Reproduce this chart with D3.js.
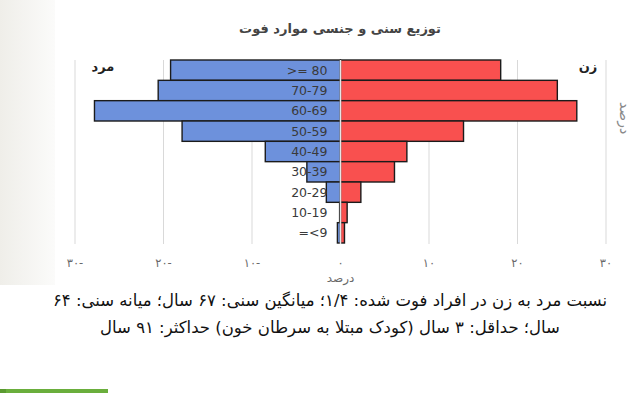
<!DOCTYPE html>
<html>
<head>
<meta charset="utf-8">
<script src="https://d3js.org/d3.v7.min.js"></script>
<style>
    body { margin: 0; background: #fff; }
    svg text { font-family: "DejaVu Sans", sans-serif; }
</style>
</head>
<body>
<div id="chart"></div>
<script>

    // age groups, top to bottom
    var ages = [">= 80", "70-79", "60-69", "50-59", "40-49", "30-39", "20-29", "10-19", "=<9"];
    // percent of deaths within each sex
    var male = [19.2, 20.6, 27.8, 17.9, 8.5, 3.8, 1.6, 0.1, 0.35];
    var female = [18.1, 24.5, 26.7, 13.9, 7.5, 6.1, 2.3, 0.75, 0.45];
    var ticks = [-30, -20, -10, 0, 10, 20, 30];

    var title = "توزیع سنی و جنسی موارد فوت";
    var notes = [
        "نسبت مرد به زن در افراد فوت شده: ۱/۴؛ میانگین سنی: ۶۷ سال؛ میانه سنی: ۶۴",
        "سال؛ حداقل: ۳ سال (کودک مبتلا به سرطان خون) حداکثر: ۹۱ سال"
    ];

    var W = 640, H = 393;

    var svg = d3.select("#chart")
        .append("svg")
        .attr("width", W)
        .attr("height", H);

    // faint grey strip on the left of the card
    var grad = svg.append("defs").append("linearGradient")
        .attr("id", "side").attr("x1", 0).attr("x2", 1);
    grad.append("stop").attr("offset", 0).attr("stop-color", "#efeee9");
    grad.append("stop").attr("offset", 1).attr("stop-color", "#fbfbfa");
    svg.append("rect").attr("x", 0).attr("y", 0).attr("width", 55).attr("height", 285)
        .attr("fill", "url(#side)");

    var x = d3.scaleLinear()
        .domain([-30, 30])
        .range([75, 606]);

    var y = d3.scaleBand()
        .domain(ages)
        .range([60, 243])
        .padding(0);

    // gridlines
    svg.append("g")
        .selectAll("line")
        .data(ticks.filter(function (d) { return d != 0; }))
        .enter()
        .append("line")
        .attr("x1", function (d) { return x(d) })
        .attr("x2", function (d) { return x(d) })
        .attr("y1", 60)
        .attr("y2", 244)
        .attr("stroke", "#d9d9d9")
        .attr("stroke-width", 1);

    // male bars
    svg.append("g")
        .selectAll("rect")
        .data(ages)
        .enter()
        .append("rect")
        .attr("x", function (d, i) { return x(-male[i]) })
        .attr("y", function (d) { return y(d) })
        .attr("width", function (d, i) { return x(0) - x(-male[i]) })
        .attr("height", y.bandwidth())
        .attr("fill", "#6d91dc")
        .attr("stroke", "#1b1b1b")
        .attr("stroke-width", 1.4);

    // female bars
    svg.append("g")
        .selectAll("rect")
        .data(ages)
        .enter()
        .append("rect")
        .attr("x", x(0))
        .attr("y", function (d) { return y(d) })
        .attr("width", function (d, i) { return x(female[i]) - x(0) })
        .attr("height", y.bandwidth())
        .attr("fill", "#f9504f")
        .attr("stroke", "#1b1b1b")
        .attr("stroke-width", 1.4);

    // zero line over the bars
    svg.append("line")
        .attr("x1", x(0)).attr("x2", x(0))
        .attr("y1", 60).attr("y2", 244)
        .attr("stroke", "#e6e6e6")
        .attr("stroke-width", 1.5);

    // age labels
    svg.append("g")
        .selectAll("text")
        .data(ages)
        .enter()
        .append("text")
        .attr("x", x(0) - 13)
        .attr("y", function (d) { return y(d) + y.bandwidth() / 2 + 4.5 })
        .attr("text-anchor", "end")
        .attr("direction", "ltr")
        .style("unicode-bidi", "bidi-override")
        .attr("font-size", 12.5)
        .attr("fill", "#3a3a3a")
        .text(function (d) { return d });

    // x tick labels in persian digits
    var fa = function (n) {
        var s = String(Math.abs(n)).replace(/\d/g, function (c) { return "۰۱۲۳۴۵۶۷۸۹"[+c]; });
        return n < 0 ? s + "-" : s;
    };
    svg.append("g")
        .selectAll("text")
        .data(ticks)
        .enter()
        .append("text")
        .attr("x", function (d) { return x(d) })
        .attr("y", 267)
        .attr("text-anchor", "middle")
        .attr("direction", "ltr")
        .style("unicode-bidi", "bidi-override")
        .attr("font-size", 11.5)
        .attr("fill", "#6a6a6a")
        .text(function (d) { return fa(d) });

    svg.append("text")
        .attr("x", x(0)).attr("y", 282)
        .attr("text-anchor", "middle")
        .attr("font-size", 12)
        .attr("fill", "#6a6a6a")
        .text("درصد");

    // vertical axis title on the right
    svg.append("text")
        .attr("transform", "translate(620,118) rotate(90)")
        .attr("text-anchor", "middle")
        .attr("font-size", 14)
        .attr("fill", "#8a8a8a")
        .text("درصد");

    // series names
    svg.append("text")
        .attr("x", 103).attr("y", 71)
        .attr("text-anchor", "middle")
        .attr("font-size", 13).attr("font-weight", "bold")
        .attr("fill", "#222")
        .text("مرد");
    svg.append("text")
        .attr("x", 588).attr("y", 71)
        .attr("text-anchor", "middle")
        .attr("font-size", 13).attr("font-weight", "bold")
        .attr("fill", "#222")
        .text("زن");

    // title
    svg.append("text")
        .attr("x", 340).attr("y", 33)
        .attr("text-anchor", "middle")
        .attr("font-size", 13).attr("font-weight", "bold")
        .attr("fill", "#444")
        .text(title);

    // notes under the chart
    svg.append("g")
        .selectAll("text")
        .data(notes)
        .enter()
        .append("text")
        .attr("x", 330)
        .attr("y", function (d, i) { return 306 + i * 27 })
        .attr("text-anchor", "middle")
        .attr("direction", "rtl")
        .attr("font-size", 16.5)
        .attr("fill", "#111")
        .text(function (d) { return d });

    // green bar at bottom left
    svg.append("rect").attr("x", 0).attr("y", 389).attr("width", 108).attr("height", 4).attr("fill", "#6aae3c");
    svg.append("rect").attr("x", 0).attr("y", 389).attr("width", 6).attr("height", 4).attr("fill", "#5a9a30");

</script>
</body>
</html>
